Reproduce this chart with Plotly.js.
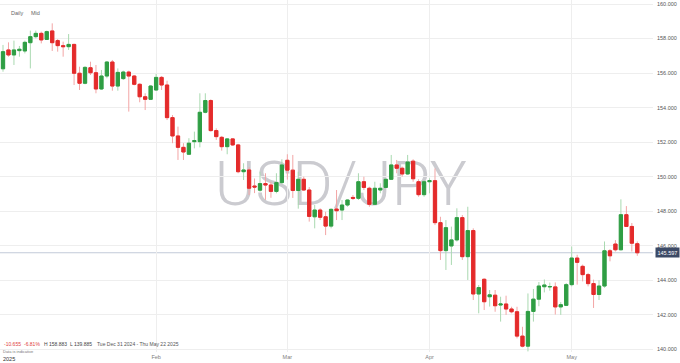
<!DOCTYPE html>
<html><head><meta charset="utf-8">
<script src="https://cdn.plot.ly/plotly-3.0.1.min.js"></script>
<style>html,body{margin:0;padding:0;background:#fff}#chart{width:680px;height:363px}</style>
</head><body><div id="chart"></div>
<script>
const dates = ['2024-12-31','2025-01-01','2025-01-02','2025-01-03','2025-01-05','2025-01-06','2025-01-07','2025-01-08','2025-01-09','2025-01-10',
'2025-01-12','2025-01-13','2025-01-14','2025-01-15','2025-01-16','2025-01-17','2025-01-19','2025-01-20','2025-01-21','2025-01-22',
'2025-01-23','2025-01-24','2025-01-26','2025-01-27','2025-01-28','2025-01-29','2025-01-30','2025-01-31','2025-02-02','2025-02-03',
'2025-02-04','2025-02-05','2025-02-06','2025-02-07','2025-02-09','2025-02-10','2025-02-11','2025-02-12','2025-02-13','2025-02-14',
'2025-02-16','2025-02-17','2025-02-18','2025-02-19','2025-02-20','2025-02-21','2025-02-23','2025-02-24','2025-02-25','2025-02-26',
'2025-02-27','2025-02-28','2025-03-02','2025-03-03','2025-03-04','2025-03-05','2025-03-06','2025-03-07','2025-03-09','2025-03-10',
'2025-03-11','2025-03-12','2025-03-13','2025-03-14','2025-03-16','2025-03-17','2025-03-18','2025-03-19','2025-03-20','2025-03-21',
'2025-03-23','2025-03-24','2025-03-25','2025-03-26','2025-03-27','2025-03-28','2025-03-30','2025-03-31','2025-04-01','2025-04-02',
'2025-04-03','2025-04-04','2025-04-06','2025-04-07','2025-04-08','2025-04-09','2025-04-10','2025-04-11','2025-04-13','2025-04-14',
'2025-04-15','2025-04-16','2025-04-17','2025-04-18','2025-04-20','2025-04-21','2025-04-22','2025-04-23','2025-04-24','2025-04-25',
'2025-04-27','2025-04-28','2025-04-29','2025-04-30','2025-05-01','2025-05-02','2025-05-04','2025-05-05','2025-05-06','2025-05-07',
'2025-05-08','2025-05-09','2025-05-11','2025-05-12','2025-05-13','2025-05-14','2025-05-15'];

const openP = [156.25,157.34,157.05,157.30,157.28,157.76,158.11,158.30,157.95,158.44,
157.88,157.59,157.53,157.66,155.99,155.41,156.31,156.02,155.08,155.83,
156.64,155.25,155.68,156.06,155.83,155.35,154.63,154.48,155.02,155.75,
155.31,153.42,152.36,151.70,151.30,152.03,152.03,153.73,154.41,152.67,
152.28,151.74,152.19,151.84,150.29,150.39,149.46,149.22,149.60,149.52,
149.15,149.66,150.95,150.38,149.20,149.85,149.23,147.68,148.07,147.68,
147.14,148.13,148.07,148.36,148.80,148.75,149.71,149.33,148.40,149.23,
149.38,149.85,150.68,150.49,150.16,150.90,149.71,148.96,149.71,149.77,
147.34,145.72,145.99,146.34,147.63,145.37,146.88,143.21,144.06,143.05,
143.14,142.57,142.63,142.34,142.18,140.77,140.19,142.20,142.91,143.63,
143.62,143.62,142.46,142.55,143.75,145.29,144.81,144.33,143.81,143.18,
143.67,145.71,146.10,145.77,147.80,147.12,146.12];

const highP = [157.63,157.78,157.88,157.57,157.88,158.46,158.46,158.40,158.46,158.88,
157.97,157.82,158.26,157.70,156.37,156.40,156.66,156.47,156.18,156.70,
156.76,156.27,156.14,156.14,155.89,155.41,154.83,155.31,155.95,155.83,
155.56,153.57,152.90,151.94,152.23,152.61,154.83,154.83,154.48,152.80,
152.36,152.23,152.23,151.90,150.78,150.55,149.90,150.29,150.20,149.71,
150.20,151.01,151.30,151.26,150.29,150.00,149.40,148.36,148.17,147.97,
148.17,149.23,148.65,148.69,148.94,150.20,150.00,149.42,149.71,149.62,
149.90,151.26,150.97,150.59,151.26,151.01,149.85,149.81,149.91,150.48,
147.68,147.49,147.11,148.17,147.78,148.26,147.01,143.73,144.12,143.44,
143.44,143.05,143.11,142.47,142.47,141.31,143.24,143.50,143.90,144.05,
143.87,143.88,142.74,143.84,145.96,145.48,144.91,144.43,144.04,144.00,
146.25,145.81,146.33,148.69,148.30,147.32,146.25];

const lowP = [156.08,156.95,156.47,156.95,157.14,156.27,158.01,157.72,157.92,157.28,
157.24,156.95,157.34,155.31,155.02,155.35,155.89,154.83,155.02,155.70,
154.98,154.98,155.60,153.77,155.29,154.31,153.86,154.44,154.98,155.02,
153.28,151.94,150.97,150.97,151.26,151.64,151.70,153.67,152.61,152.13,
151.51,151.30,151.78,150.20,149.81,148.94,149.05,149.13,148.66,148.78,
149.04,149.57,149.83,148.77,148.15,149.19,147.40,147.01,147.49,146.62,
147.01,147.49,147.49,148.26,148.65,148.65,149.23,148.26,148.36,149.04,
149.33,149.81,150.20,150.00,150.10,149.71,148.84,148.84,149.04,147.20,
145.18,144.60,144.89,146.24,145.18,144.02,142.86,142.09,142.28,142.48,
142.18,141.61,142.00,142.09,140.64,140.12,139.885,141.61,142.50,143.30,
143.40,142.02,142.00,142.51,143.65,143.75,143.94,143.65,142.40,142.86,
143.57,145.10,145.67,145.73,147.09,145.67,145.42];

const closeP = [157.24,157.05,157.34,157.38,157.78,158.11,158.30,157.92,158.40,157.76,
157.59,157.53,157.66,155.99,155.41,156.33,156.02,155.08,155.83,156.64,
155.25,156.04,156.06,155.83,155.35,154.63,154.48,155.25,155.75,155.31,
153.42,152.36,151.70,151.43,151.94,152.09,153.73,154.41,152.67,152.32,
151.74,152.19,151.84,150.29,150.39,149.33,149.40,149.60,149.52,149.15,
149.66,150.68,150.38,149.20,149.85,149.23,147.70,148.07,147.65,147.14,
148.11,148.03,148.36,148.65,148.75,149.71,149.38,148.40,149.33,149.33,
149.85,150.68,150.49,150.16,150.85,149.88,148.96,149.71,149.77,147.34,
145.72,147.05,146.34,147.63,145.37,146.88,143.21,143.58,142.76,143.16,
142.53,142.63,142.34,142.18,140.77,140.19,142.20,142.91,143.67,143.73,
143.64,142.46,142.59,143.75,145.29,145.04,144.33,143.81,143.18,143.67,
145.71,145.42,145.77,147.80,147.12,146.15,145.597];

const monthTickDates = ['2025-02-02','2025-03-02','2025-04-01','2025-05-01'];
const monthTickLabels = ['Feb','Mar','Apr','May'];
const yearLabel = '2025';
const symbolName = 'USD/JPY';
const lastPrice = 145.597;
const statChange = '-10.655';
const statPct = '-6.81%';
const statHigh = 'H 158.883';
const statLow = 'L 139.885';
const statRange = 'Tue Dec 31 2024 - Thu May 22 2025';
const headerItems = ['Daily','Mid'];
const noteText = 'Data is indicative';

const GREEN = '#2f9e44', RED = '#e42b2b';
const GREEN_W = '#a9d9b0', RED_W = '#f3a5a5';

const bodyHigh = openP.map((o,i)=>Math.max(o, closeP[i]));
const bodyLow = openP.map((o,i)=>Math.min(o, closeP[i]));

const wickTrace = {
  type:'candlestick', x:dates, open:openP, high:highP, low:lowP, close:closeP,
  increasing:{line:{color:GREEN_W,width:1}, fillcolor:GREEN_W},
  decreasing:{line:{color:RED_W,width:1}, fillcolor:RED_W},
  hoverinfo:'skip', showlegend:false
};
const bodyTrace = {
  type:'candlestick', x:dates, open:openP, high:bodyHigh, low:bodyLow, close:closeP,
  increasing:{line:{color:GREEN,width:1}, fillcolor:GREEN},
  decreasing:{line:{color:RED,width:1}, fillcolor:RED},
  hoverinfo:'skip', showlegend:false
};

const PW = 653, PH = 352;
const fnt = 'Liberation Sans, Arial, sans-serif';
function ann(text, px, py, color, size, extra){
  return Object.assign({text:text, xref:'paper', yref:'paper', x:px/PW, y:1-py/PH,
    xanchor:'left', yanchor:'middle', showarrow:false,
    font:{family:fnt, size:size, color:color}}, extra||{});
}

const layout = {
  width:680, height:363,
  margin:{l:0, r:27, t:0, b:11},
  paper_bgcolor:'#ffffff', plot_bgcolor:'#ffffff',
  showlegend:false, hovermode:false, boxgap:0.15,
  xaxis:{type:'category', range:[-0.549, 118.87], tickmode:'array',
    tickvals:monthTickDates, ticktext:monthTickLabels,
    showgrid:true, gridcolor:'#eeeeee', gridwidth:1, zeroline:false, showline:false,
    ticks:'', rangeslider:{visible:false}, fixedrange:true,
    tickfont:{family:fnt, size:5.5, color:'#808080'}},
  yaxis:{side:'right', range:[139.85, 160.232], tick0:140, dtick:2, tickformat:'.3f',
    showgrid:true, gridcolor:'#eeeeee', gridwidth:1, zeroline:false, showline:false,
    ticks:'', fixedrange:true, ticklabelstandoff:3,
    tickfont:{family:fnt, size:5.5, color:'#555555'}},
  shapes:[
    {type:'rect', xref:'paper', yref:'paper', x0:0.30, x1:0.744, y0:0.36, y1:0.62,
     layer:'below', line:{width:0}, fillcolor:'rgba(0,0,0,0)',
     label:{text:symbolName, textposition:'middle center',
       font:{family:'Roboto, sans-serif', size:62, color:'#cbcbd0', weight:300}}},
    {type:'line', xref:'paper', yref:'y', x0:0, x1:1, y0:lastPrice, y1:lastPrice,
     layer:'below', line:{color:'#c2cad8', width:1}}
  ],
  annotations:[
    ann(headerItems[0], 9, 13, '#666666', 5.5),
    ann(headerItems[1], 29, 13, '#666666', 5.5),
    ann(statChange, 2, 344, '#e04040', 5),
    ann(statPct, 22, 344, '#e04040', 5),
    ann(statHigh, 42, 344, '#444444', 5),
    ann(statLow, 68, 344, '#444444', 5),
    ann(statRange, 95, 344, '#555555', 5),
    ann(noteText, 1, 351.5, '#777777', 4),
    ann(yearLabel, 1, 359, '#333333', 5.5),
    {text:String(lastPrice.toFixed(3)), xref:'paper', yref:'y', x:1, y:lastPrice,
     xanchor:'left', yanchor:'middle', xshift:2, showarrow:false,
     bgcolor:'#3c4a66', borderpad:1.5,
     font:{family:fnt, size:5.5, color:'#ffffff'}}
  ]
};

Plotly.newPlot('chart', [wickTrace, bodyTrace], layout, {displayModeBar:false, staticPlot:true});
</script>
</body></html>
